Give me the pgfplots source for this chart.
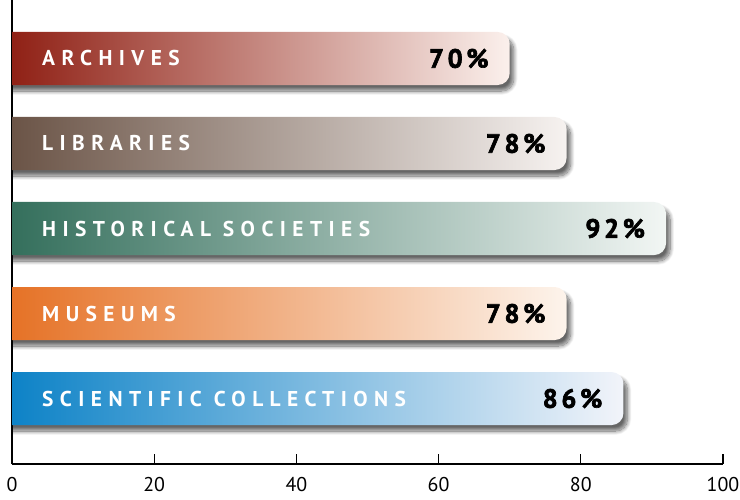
\documentclass[border=0pt]{standalone}
\usepackage{fontspec}
\setmainfont{PT Sans}
\usepackage{pgfplots}
\pgfplotsset{compat=1.18}
\usetikzlibrary{shadows.blur}
\newfontfamily\labfont[LetterSpace=30]{PT Sans}
\newfontfamily\valfont[LetterSpace=14, BoldFeatures={FakeBold=2.5}]{PT Sans}
\definecolor{arcL}{RGB}{136,18,6}
\definecolor{arcR}{RGB}{251,240,236}
\definecolor{libL}{RGB}{98,74,60}
\definecolor{libR}{RGB}{246,242,240}
\definecolor{hisL}{RGB}{42,104,84}
\definecolor{hisR}{RGB}{242,246,244}
\definecolor{musL}{RGB}{228,106,26}
\definecolor{musR}{RGB}{253,244,236}
\definecolor{sciL}{RGB}{0,124,196}
\definecolor{sciR}{RGB}{242,244,250}
\tikzset{barshadow/.style={blur shadow={shadow xshift=4bp, shadow yshift=-6bp, shadow blur radius=4bp, shadow blur steps=12, shadow opacity=60}}}
\begin{document}
\begin{tikzpicture}
\begin{axis}[
  width=711bp, height=464bp, scale only axis,
  xmin=0, xmax=100, ymin=0.23, ymax=5.688,
  axis lines*=left,
  ytick=\empty,
  xtick={0,20,40,60,80,100},
  tick align=inside,
  major tick length=10bp,
  axis line style={line width=1.1bp, black},
  tick style={line width=1.1bp, black},
  xticklabel style={font=\fontsize{20}{22}\selectfont, yshift=-10bp},
  /pgf/number format/assume math mode=true,
]
% bars (value, row)
\addplot[draw=none, mark=none, left color=arcL, right color=arcR, rounded corners=12bp, barshadow]
  coordinates {(-5,4.688) (70,4.688) (70,5.312) (-5,5.312)} -- cycle;
\addplot[draw=none, mark=none, left color=libL, right color=libR, rounded corners=12bp, barshadow]
  coordinates {(-5,3.688) (78,3.688) (78,4.312) (-5,4.312)} -- cycle;
\addplot[draw=none, mark=none, left color=hisL, right color=hisR, rounded corners=12bp, barshadow]
  coordinates {(-5,2.688) (92,2.688) (92,3.312) (-5,3.312)} -- cycle;
\addplot[draw=none, mark=none, left color=musL, right color=musR, rounded corners=12bp, barshadow]
  coordinates {(-5,1.688) (78,1.688) (78,2.312) (-5,2.312)} -- cycle;
\addplot[draw=none, mark=none, left color=sciL, right color=sciR, rounded corners=12bp, barshadow]
  coordinates {(-5,0.688) (86,0.688) (86,1.312) (-5,1.312)} -- cycle;
% category labels
\addplot[draw=none, mark=none, nodes near coords, point meta=explicit symbolic,
  nodes near coords style={anchor=west, inner sep=0pt, xshift=30bp, text=white,
    font=\labfont\bfseries\fontsize{21.5}{23}\selectfont}]
  coordinates {(0,5) [ARCHIVES] (0,4) [LIBRARIES] (0,3) [HISTORICAL SOCIETIES] (0,2) [MUSEUMS] (0,1) [SCIENTIFIC COLLECTIONS]};
% value labels
\addplot[draw=none, mark=none, nodes near coords, point meta=explicit symbolic,
  nodes near coords style={anchor=east, inner sep=0pt, xshift=-21bp, text=black,
    font=\valfont\bfseries\fontsize{26.5}{28}\selectfont}]
  coordinates {(70,5) [70\%] (78,4) [78\%] (92,3) [92\%] (78,2) [78\%] (86,1) [86\%]};
\coordinate (sw) at (rel axis cs:0,0);
\coordinate (ne) at (rel axis cs:1,1);
\end{axis}
\pgfresetboundingbox
\useasboundingbox ([xshift=-12bp,yshift=-36bp]sw) rectangle ([xshift=17bp]ne);
\end{tikzpicture}
\end{document}
